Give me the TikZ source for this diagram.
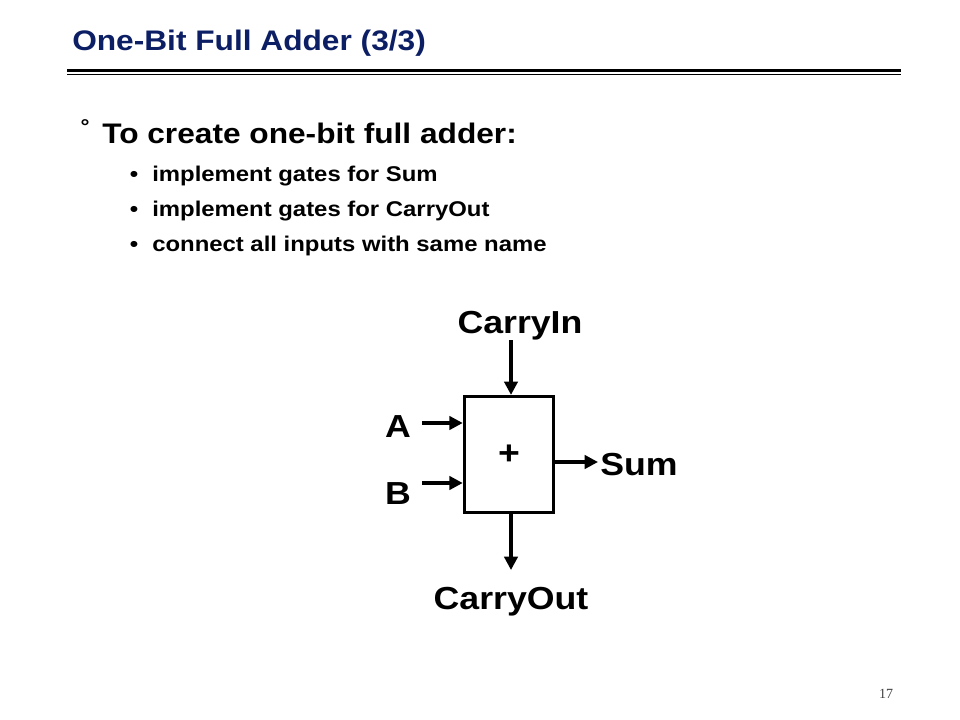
\documentclass[tikz,border=0pt]{standalone}
\usepackage{fontspec}
\setmainfont{Liberation Sans}[FakeStretch=1.12]
\newfontfamily\pagefont{Liberation Serif}
\usepackage{tikz}
\usetikzlibrary{arrows.meta}
\definecolor{titleblue}{RGB}{12,30,100}

\begin{document}
\begin{tikzpicture}[x=0.75pt,y=-0.75pt]
		\tikzstyle{Title}	= [anchor=base west, inner sep=0pt, text=titleblue, font=\fontsize{21.2}{24}\selectfont\bfseries]
		\tikzstyle{Lead}	= [anchor=base west, inner sep=0pt, font=\fontsize{21.2}{24}\selectfont\bfseries]
		\tikzstyle{Item}	= [anchor=base west, inner sep=0pt, font=\fontsize{16}{18}\selectfont\bfseries]
		\tikzstyle{Dot}		= [Item, anchor=base]
		\tikzstyle{Label}	= [anchor=base, inner sep=0pt, font=\fontsize{23.9}{27}\selectfont\bfseries]
		\tikzstyle{Block}	= [rectangle, draw, line width=2.4pt, minimum width=67pt, minimum height=87pt, inner sep=0pt, font=\fontsize{25}{28}\selectfont\bfseries]
		\tikzstyle{Wire}	= [line width=2.4pt, -{Triangle[length=10pt,width=10pt]}]
		\tikzstyle{PageNo}	= [inner sep=0pt, text=black!75, font=\pagefont\fontsize{10.5}{12}\selectfont]

		\useasboundingbox (0,0) rectangle (960,720);

		% heading
		\node (title) at (72,51) [Title] {One-Bit Full Adder (3/3)};
		\draw [line width=2.25pt] (67,70.5) -- (901,70.5);
		\draw [line width=0.75pt] (67,74.5) -- (901,74.5);

		% text
		\node (ring) at (85,126.5) [inner sep=0pt, font=\fontsize{15}{18}\selectfont\bfseries] {°};
		\node (lead) at (102,144) [Lead] {To create one-bit full adder:};
		\node (d1) at (134,182) [Dot] {•};
		\node (d2) at (134,217) [Dot] {•};
		\node (d3) at (134,252) [Dot] {•};
		\node (i1) at (152,182) [Item] {implement gates for Sum};
		\node (i2) at (152,217) [Item] {implement gates for CarryOut};
		\node (i3) at (152,252) [Item] {connect all inputs with same name};

		% adder
		\node (adder) at (509,454.5) [Block] {+};
		\node (cinlabel) at (520,334) [Label] {CarryIn};
		\node (coutlabel) at (511,609) [Label] {CarryOut};
		\node (alabel) at (398,437) [Label] {A};
		\node (blabel) at (398,504) [Label] {B};
		\node (sumlabel) at (600,475) [Label, anchor=base west] {Sum};

		\coordinate (cin) at (511,340);
		\coordinate (cout) at (511,570);
		\coordinate (ain) at (422,423);
		\coordinate (bin) at (422,483);
		\coordinate (sout) at (598,462);

		\draw (cin) to (cin |- adder.north) [Wire];
		\draw (cout |- adder.south) to (cout) [Wire];
		\draw (ain) to (ain -| adder.west) [Wire];
		\draw (bin) to (bin -| adder.west) [Wire];
		\draw (sout -| adder.east) to (sout) [Wire];

		\node (page) at (886,694) [PageNo] {17};
	\end{tikzpicture}
\end{document}
